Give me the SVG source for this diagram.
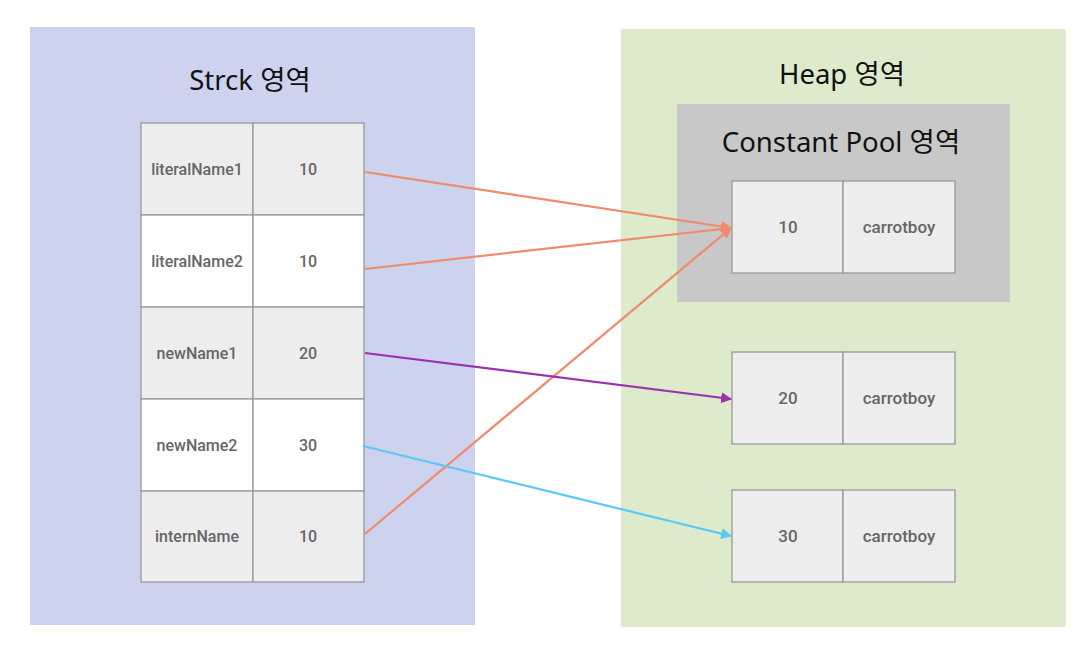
<svg xmlns="http://www.w3.org/2000/svg" width="1090" height="651" viewBox="0 0 1090 651">
<style>
.title{font-family:"Noto Sans","Noto Sans CJK KR",sans-serif;font-size:27.5px;fill:#111;text-anchor:middle}
.cell{stroke:#999;stroke-width:1.3}
.g{fill:#EDEDED}
.w{fill:#FFFFFF}
.t{font-family:Roboto,"Liberation Sans",sans-serif;font-size:16px;font-weight:500;fill:#666;text-anchor:middle;dominant-baseline:central}
.h{font-size:17px}
.c{fill:none;stroke-width:2.2}
</style>
<defs>
<marker id="mo" viewBox="0 0 10 10" refX="9" refY="5" markerWidth="5" markerHeight="5" orient="auto" markerUnits="strokeWidth"><path d="M0,0 L10,5 L0,10 z" fill="#F08A6A"/></marker>
<marker id="mp" viewBox="0 0 10 10" refX="9" refY="5" markerWidth="5" markerHeight="5" orient="auto" markerUnits="strokeWidth"><path d="M0,0 L10,5 L0,10 z" fill="#9B30B0"/></marker>
<marker id="mb" viewBox="0 0 10 10" refX="9" refY="5" markerWidth="5" markerHeight="5" orient="auto" markerUnits="strokeWidth"><path d="M0,0 L10,5 L0,10 z" fill="#5BC8F5"/></marker>
</defs>
<rect width="1090" height="651" fill="#FFFFFF"/>
<g id="stack">
<rect x="30" y="27" width="445" height="598" fill="#CDD2EF"/>
<text class="title" x="250" y="90">Strck 영역</text>
</g>
<g id="heap">
<rect x="621" y="29" width="445" height="598" fill="#DDEACC"/>
<text class="title" x="842" y="84">Heap 영역</text>
</g>
<g id="constant-pool">
<rect x="677" y="104" width="333" height="198" fill="#C8C8C8"/>
<text class="title" x="841" y="152">Constant Pool 영역</text>
</g>
<g id="row-literalName1">
<rect class="cell g" x="141" y="123" width="112" height="92"/><rect class="cell g" x="253" y="123" width="111" height="92"/>
<text class="t" x="197" y="169">literalName1</text><text class="t" x="308" y="169">10</text>
</g>
<g id="row-literalName2">
<rect class="cell w" x="141" y="215" width="112" height="92"/><rect class="cell w" x="253" y="215" width="111" height="92"/>
<text class="t" x="197" y="261">literalName2</text><text class="t" x="308" y="261">10</text>
</g>
<g id="row-newName1">
<rect class="cell g" x="141" y="307" width="112" height="92"/><rect class="cell g" x="253" y="307" width="111" height="92"/>
<text class="t" x="197" y="353">newName1</text><text class="t" x="308" y="353">20</text>
</g>
<g id="row-newName2">
<rect class="cell w" x="141" y="399" width="112" height="92"/><rect class="cell w" x="253" y="399" width="111" height="92"/>
<text class="t" x="197" y="445">newName2</text><text class="t" x="308" y="445">30</text>
</g>
<g id="row-internName">
<rect class="cell g" x="141" y="491" width="112" height="91"/><rect class="cell g" x="253" y="491" width="111" height="91"/>
<text class="t" x="197" y="536">internName</text><text class="t" x="308" y="536">10</text>
</g>
<g id="obj-10">
<rect class="cell g" x="732" y="181" width="111" height="92"/><rect class="cell g" x="843" y="181" width="112" height="92"/>
<text class="t h" x="788" y="227">10</text><text class="t h" x="899" y="227">carrotboy</text>
</g>
<g id="obj-20">
<rect class="cell g" x="732" y="352" width="111" height="92"/><rect class="cell g" x="843" y="352" width="112" height="92"/>
<text class="t h" x="788" y="398">20</text><text class="t h" x="899" y="398">carrotboy</text>
</g>
<g id="obj-30">
<rect class="cell g" x="732" y="490" width="111" height="92"/><rect class="cell g" x="843" y="490" width="112" height="92"/>
<text class="t h" x="788" y="536">30</text><text class="t h" x="899" y="536">carrotboy</text>
</g>
<g id="connectors">
<line class="c" x1="365" y1="172" x2="731" y2="228" stroke="#F08A6A" marker-end="url(#mo)"/>
<line class="c" x1="365" y1="269" x2="731" y2="228" stroke="#F08A6A" marker-end="url(#mo)"/>
<line class="c" x1="365" y1="534" x2="731" y2="228" stroke="#F08A6A" marker-end="url(#mo)"/>
<line class="c" x1="365" y1="353" x2="731" y2="399" stroke="#9B30B0" marker-end="url(#mp)"/>
<line class="c" x1="363" y1="446" x2="731" y2="536" stroke="#5BC8F5" marker-end="url(#mb)"/>
</g>
</svg>
